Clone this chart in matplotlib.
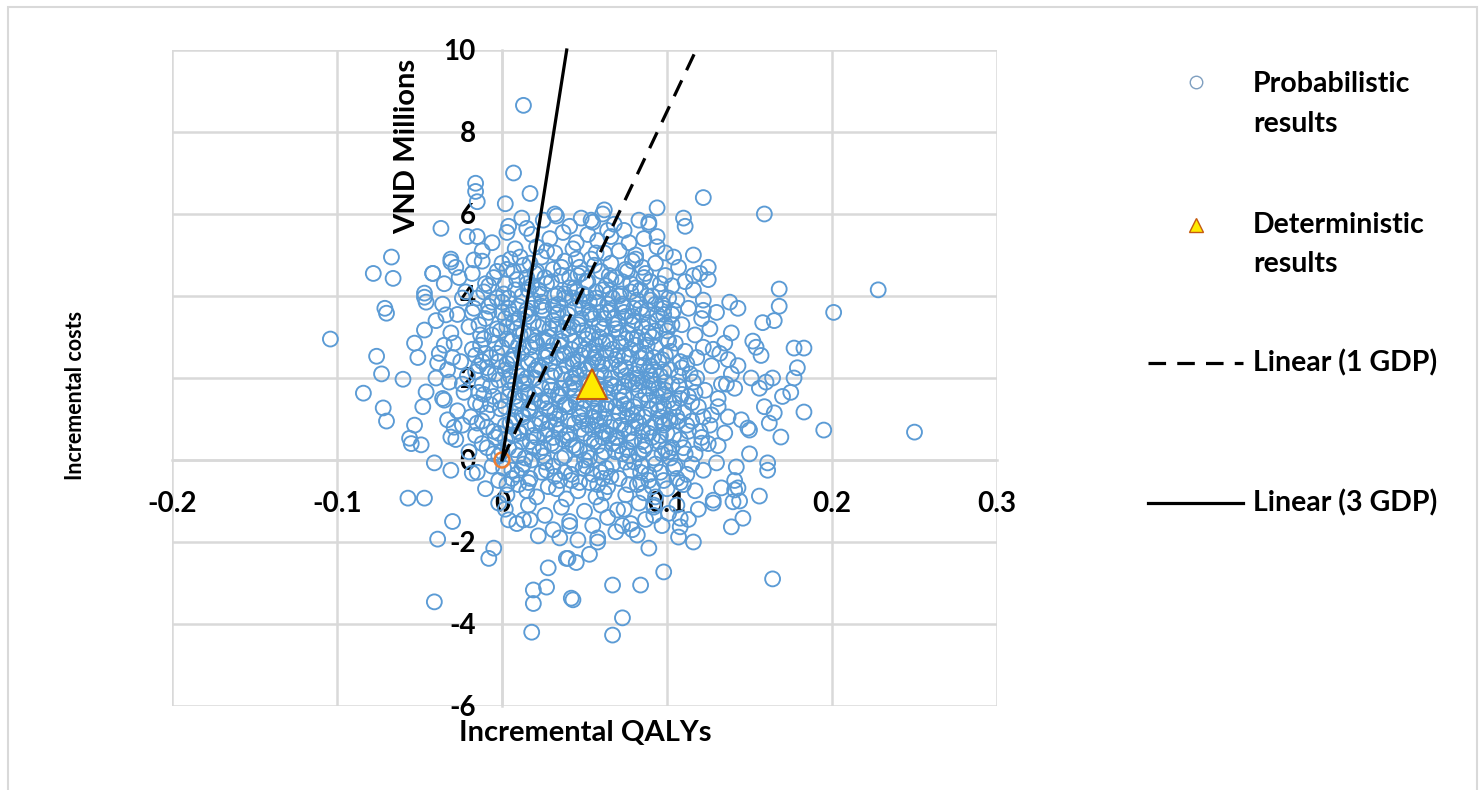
import numpy as np
import matplotlib
matplotlib.use("Agg")
from matplotlib import pyplot as plt
from matplotlib.lines import Line2D
from matplotlib.patches import Rectangle

# probabilistic results (incremental QALYs, incremental costs in VND millions)
upper_pts = [
    (0.013, 8.65), (0.007, 7.0), (-0.016, 6.75), (-0.016, 6.55), (-0.015, 6.3), (0.017, 6.5),
    (0.002, 6.25), (-0.037, 5.65), (0.122, 6.4), (0.159, 6.0), (0.094, 6.15), (0.110, 5.9),
    (0.111, 5.7), (0.094, 5.45), (0.089, 5.8), (0.116, 5.0), (0.104, 4.95), (0.125, 4.7),
    (0.125, 4.4), (0.116, 4.5), (0.032, 6.0), (0.062, 6.1), (0.054, 5.85), (0.004, 5.7),
    (-0.015, 5.45), (-0.031, 4.9), (-0.042, 4.55),
]
right_pts = [
    (0.228, 4.15), (0.201, 3.6), (0.168, 4.17), (0.168, 3.75), (0.165, 3.4), (0.158, 3.35),
    (0.138, 3.85), (0.143, 3.7), (0.122, 3.9), (0.122, 3.65), (0.183, 2.73), (0.177, 2.73),
    (0.179, 2.25), (0.177, 2.0), (0.175, 1.65), (0.170, 1.55), (0.183, 1.17), (0.195, 0.73),
    (0.250, 0.68), (0.169, 0.56), (0.165, 1.15), (0.159, 1.3), (0.162, 0.9), (0.150, 0.15),
    (0.161, -0.07), (0.161, -0.25), (0.150, 0.73), (0.160, 1.9), (0.164, 2.0), (0.156, 1.75),
    (0.151, 2.0), (0.154, 2.75), (0.157, 2.55), (0.152, 2.9), (0.139, 3.1), (0.135, 2.85),
    (0.128, 2.7), (0.137, 2.45), (0.143, 2.3), (0.139, 2.1), (0.133, 1.85), (0.141, 1.75),
    (0.122, 1.05), (0.131, 1.3), (0.137, 1.05), (0.145, 0.98), (0.149, 0.78), (0.135, 0.66),
    (0.121, 0.41), (0.125, 0.4), (0.130, -0.07), (0.142, -0.17), (0.141, -0.5), (0.133, -0.68),
    (0.143, -0.68), (0.156, -0.88), (0.144, -1.0), (0.128, -0.98),
]
lower_pts = [
    (0.146, -1.42), (0.139, -1.63), (0.128, -1.05), (0.140, -1.02), (0.116, -2.0), (0.108, -1.63),
    (0.107, -1.88), (0.108, -1.42), (0.164, -2.9), (0.098, -2.73), (0.089, -2.15), (0.084, -3.05),
    (0.067, -3.05), (0.073, -3.85), (0.067, -4.27), (0.043, -3.41), (0.058, -2.0), (0.053, -2.3),
    (0.040, -2.4), (0.045, -2.5), (0.082, -1.83), (0.079, -1.7), (0.073, -1.6), (0.070, -1.22),
    (0.092, -1.35), (0.092, -1.1), (0.141, -0.73), (-0.005, -2.15), (-0.008, -2.4), (-0.041, -3.46),
    (0.028, -2.63), (0.019, -3.17), (0.027, -3.1), (0.019, -3.5), (0.018, -4.2), (0.042, -3.37),
    (0.039, -2.4), (0.035, -1.9), (0.041, -1.6), (0.004, -1.46), (0.013, -1.46), (0.017, -1.46),
    (-0.002, -1.05), (-0.030, -1.5), (-0.039, -1.93),
]
left_pts = [
    (-0.057, -0.93), (-0.047, -0.93), (-0.018, -0.32), (-0.031, -0.25), (-0.041, -0.07),
    (-0.067, 4.95), (-0.078, 4.55), (-0.066, 4.43), (-0.042, 4.55), (-0.031, 4.83), (-0.017, 4.88),
    (-0.047, 4.07), (-0.046, 3.85), (-0.071, 3.7), (-0.070, 3.58), (-0.104, 2.95), (-0.076, 2.53),
    (-0.073, 2.1), (-0.060, 1.97), (-0.084, 1.63), (-0.072, 1.27), (-0.070, 0.95), (-0.053, 2.85),
    (-0.047, 3.17), (-0.051, 2.5), (-0.035, 2.8), (-0.040, 2.0), (-0.046, 1.66), (-0.048, 1.3),
    (-0.053, 0.85), (-0.056, 0.53), (-0.055, 0.4), (-0.049, 0.37), (-0.035, 1.46), (-0.033, 0.98),
    (-0.029, 0.8), (-0.031, 0.56), (-0.039, 2.37), (-0.034, 3.54), (-0.047, 3.97),
]
core_top = [
    (0.012, 5.9), (0.025, 5.85), (0.033, 5.95), (0.041, 5.7), (0.048, 5.9), (0.055, 5.8),
    (0.061, 6.0), (0.068, 5.75), (0.074, 5.6), (0.083, 5.85), (0.089, 5.75), (0.003, 5.55),
    (-0.006, 5.3), (0.018, 5.5), (0.029, 5.4), (0.037, 5.55), (0.045, 5.3), (0.052, 5.5),
    (0.058, 5.35), (0.066, 5.45), (0.077, 5.3), (0.086, 5.4), (0.094, 5.2), (-0.012, 5.1),
    (0.008, 5.15), (0.021, 5.2), (0.032, 5.05), (0.043, 5.15), (0.057, 5.05), (0.071, 5.1),
    (0.081, 5.0), (0.099, 5.05), (-0.021, 5.45), (0.015, 5.65), (0.064, 5.6),
]
core_4_5 = [
    (-0.035, 4.3), (-0.028, 4.7), (-0.022, 4.1), (-0.018, 4.55), (-0.012, 4.85), (-0.008, 4.25),
    (-0.003, 4.6), (0.001, 4.05), (0.005, 4.9), (0.009, 4.4), (0.013, 4.75), (0.016, 4.15),
    (0.020, 4.55), (0.024, 4.95), (0.027, 4.3), (0.031, 4.65), (0.034, 4.05), (0.038, 4.85),
    (0.041, 4.45), (0.044, 4.2), (0.047, 4.7), (0.051, 4.35), (0.054, 4.9), (0.057, 4.1),
    (0.060, 4.6), (0.063, 4.25), (0.066, 4.8), (0.069, 4.45), (0.072, 4.05), (0.075, 4.65),
    (0.078, 4.3), (0.081, 4.9), (0.084, 4.15), (0.087, 4.55), (0.090, 4.35), (0.093, 4.8),
    (0.096, 4.1), (0.099, 4.5), (0.103, 4.25), (0.107, 4.7), (0.111, 4.35), (0.116, 4.15),
    (0.120, 4.55), (-0.026, 4.45), (0.003, 4.65), (0.018, 4.25), (0.036, 4.5), (0.049, 4.05),
    (0.065, 4.5), (0.085, 4.7),
]
core_3_4 = [
    (-0.040, 3.4), (-0.036, 3.8), (-0.031, 3.1), (-0.027, 3.55), (-0.024, 3.95), (-0.020, 3.25),
    (-0.017, 3.7), (-0.013, 3.05), (-0.010, 3.45), (-0.006, 3.85), (-0.003, 3.2), (0.000, 3.6),
    (0.004, 3.95), (0.007, 3.35), (0.010, 3.75), (0.013, 3.1), (0.016, 3.5), (0.019, 3.9),
    (0.022, 3.25), (0.025, 3.65), (0.028, 3.0), (0.031, 3.4), (0.034, 3.8), (0.037, 3.15),
    (0.040, 3.55), (0.043, 3.95), (0.046, 3.3), (0.049, 3.7), (0.052, 3.05), (0.055, 3.45),
    (0.058, 3.85), (0.061, 3.2), (0.064, 3.6), (0.067, 3.95), (0.070, 3.35), (0.073, 3.75),
    (0.076, 3.1), (0.079, 3.5), (0.082, 3.9), (0.085, 3.25), (0.088, 3.65), (0.091, 3.0),
    (0.094, 3.4), (0.097, 3.8), (0.100, 3.15), (0.103, 3.55), (0.106, 3.9), (0.109, 3.3),
    (0.113, 3.7), (0.117, 3.05), (0.121, 3.45), (0.126, 3.2), (0.130, 3.6), (-0.015, 3.95),
    (0.002, 3.45), (0.011, 3.05), (0.024, 3.85), (0.033, 3.3), (0.041, 3.05), (0.053, 3.6),
    (0.062, 3.45), (0.071, 3.1), (0.080, 3.7), (0.089, 3.35), (0.098, 3.55), (0.047, 3.9),
    (0.059, 3.0), (0.015, 3.65), (-0.008, 3.6), (0.075, 3.5),
]
core_2_3 = [
    (-0.038, 2.6), (-0.033, 2.2), (-0.029, 2.85), (-0.025, 2.4), (-0.021, 2.05), (-0.018, 2.7),
    (-0.014, 2.3), (-0.011, 2.95), (-0.007, 2.5), (-0.004, 2.1), (0.000, 2.75), (0.003, 2.35),
    (0.006, 2.9), (0.009, 2.15), (0.012, 2.6), (0.015, 2.0), (0.018, 2.45), (0.021, 2.85),
    (0.024, 2.25), (0.027, 2.65), (0.030, 2.05), (0.033, 2.5), (0.036, 2.9), (0.039, 2.3),
    (0.042, 2.7), (0.045, 2.1), (0.048, 2.55), (0.051, 2.95), (0.054, 2.35), (0.057, 2.8),
    (0.060, 2.15), (0.063, 2.6), (0.066, 2.0), (0.069, 2.45), (0.072, 2.85), (0.075, 2.25),
    (0.078, 2.7), (0.081, 2.1), (0.084, 2.5), (0.087, 2.9), (0.090, 2.3), (0.093, 2.75),
    (0.096, 2.05), (0.099, 2.55), (0.102, 2.2), (0.105, 2.85), (0.108, 2.4), (0.111, 2.65),
    (0.114, 2.1), (0.118, 2.5), (0.122, 2.75), (0.127, 2.3), (0.132, 2.6), (-0.030, 2.5),
    (-0.016, 2.55), (-0.002, 2.4), (0.010, 2.8), (0.020, 2.2), (0.029, 2.35), (0.038, 2.6),
    (0.047, 2.2), (0.056, 2.5), (0.065, 2.85), (0.074, 2.55), (0.083, 2.3), (0.092, 2.5),
    (0.101, 2.9), (0.044, 2.9), (0.061, 2.35), (0.079, 2.95), (0.007, 2.55), (-0.009, 2.25),
    (0.025, 2.95), (0.053, 2.65), (0.088, 2.15),
]
core_1_2 = [
    (-0.036, 1.5), (-0.032, 1.9), (-0.027, 1.2), (-0.023, 1.65), (-0.019, 1.05), (-0.016, 1.4),
    (-0.012, 1.85), (-0.009, 1.15), (-0.005, 1.55), (-0.002, 1.95), (0.002, 1.3), (0.005, 1.7),
    (0.008, 1.05), (0.011, 1.45), (0.014, 1.85), (0.017, 1.2), (0.020, 1.6), (0.023, 1.0),
    (0.026, 1.4), (0.029, 1.8), (0.032, 1.15), (0.035, 1.55), (0.038, 1.95), (0.041, 1.3),
    (0.044, 1.7), (0.047, 1.05), (0.050, 1.45), (0.053, 1.85), (0.056, 1.2), (0.059, 1.6),
    (0.062, 1.0), (0.065, 1.4), (0.068, 1.8), (0.071, 1.15), (0.074, 1.55), (0.077, 1.95),
    (0.080, 1.3), (0.083, 1.7), (0.086, 1.05), (0.089, 1.45), (0.092, 1.85), (0.095, 1.2),
    (0.098, 1.6), (0.101, 1.0), (0.104, 1.4), (0.107, 1.8), (0.110, 1.15), (0.113, 1.55),
    (0.116, 1.9), (0.119, 1.3), (0.123, 1.7), (0.127, 1.1), (0.131, 1.5), (0.136, 1.85),
    (-0.024, 1.85), (-0.007, 1.35), (0.004, 1.95), (0.016, 1.6), (0.027, 1.25), (0.036, 1.75),
    (0.045, 1.4), (0.054, 1.6), (0.063, 1.75), (0.072, 1.45), (0.081, 1.85), (0.090, 1.25),
    (0.099, 1.9), (0.108, 1.5), (0.117, 1.65), (0.043, 1.9), (0.058, 1.35), (0.076, 1.25),
    (0.094, 1.55), (0.012, 1.1), (-0.014, 1.65),
]
core_0_1 = [
    (-0.028, 0.5), (-0.024, 0.85), (-0.020, 0.2), (-0.016, 0.6), (-0.012, 0.95), (-0.009, 0.3),
    (-0.005, 0.7), (-0.002, 0.1), (0.002, 0.5), (0.005, 0.9), (0.008, 0.25), (0.011, 0.65),
    (0.014, 0.05), (0.017, 0.45), (0.020, 0.85), (0.023, 0.2), (0.026, 0.6), (0.029, 0.95),
    (0.032, 0.35), (0.035, 0.75), (0.038, 0.1), (0.041, 0.5), (0.044, 0.9), (0.047, 0.25),
    (0.050, 0.65), (0.053, 0.05), (0.056, 0.45), (0.059, 0.85), (0.062, 0.2), (0.065, 0.6),
    (0.068, 0.95), (0.071, 0.35), (0.074, 0.75), (0.077, 0.1), (0.080, 0.5), (0.083, 0.9),
    (0.086, 0.25), (0.089, 0.65), (0.092, 0.05), (0.095, 0.45), (0.098, 0.85), (0.101, 0.2),
    (0.104, 0.6), (0.107, 0.95), (0.110, 0.3), (0.113, 0.7), (0.117, 0.15), (0.121, 0.55),
    (0.126, 0.85), (0.131, 0.35), (0.007, 0.6), (0.019, 0.3), (0.031, 0.55), (0.043, 0.35),
    (0.055, 0.75), (0.067, 0.4), (0.079, 0.8), (0.091, 0.55), (0.103, 0.3), (0.115, 0.95),
    (0.049, 0.95), (0.061, 0.55), (0.073, 0.15), (0.085, 0.7), (0.097, 0.15),
]
core_neg = [
    (-0.015, -0.3), (-0.010, -0.7), (-0.006, -0.15), (-0.002, -0.5), (0.003, -0.85), (0.006, -0.25),
    (0.010, -0.6), (0.013, -0.1), (0.017, -0.45), (0.021, -0.9), (0.024, -0.3), (0.028, -0.65),
    (0.031, -0.15), (0.035, -0.5), (0.039, -0.95), (0.042, -0.35), (0.046, -0.75), (0.049, -0.2),
    (0.053, -0.55), (0.057, -0.9), (0.060, -0.3), (0.064, -0.65), (0.067, -0.1), (0.071, -0.45),
    (0.075, -0.85), (0.078, -0.25), (0.082, -0.6), (0.085, -0.15), (0.089, -0.5), (0.093, -0.9),
    (0.096, -0.3), (0.100, -0.7), (0.104, -0.2), (0.108, -0.55), (0.112, -0.35), (0.117, -0.75),
    (0.122, -0.25), (0.026, -0.05), (0.044, -0.1), (0.062, -0.8), (0.080, -0.05), (0.098, -0.5),
    (0.015, -0.75), (0.055, -0.35), (0.086, -0.8),
    (0.002, -1.2), (0.009, -1.55), (0.016, -1.1), (0.022, -1.85), (0.026, -1.35), (0.031, -1.7),
    (0.036, -1.15), (0.041, -1.5), (0.046, -1.95), (0.050, -1.25), (0.055, -1.6), (0.060, -1.1),
    (0.064, -1.4), (0.069, -1.75), (0.074, -1.2), (0.078, -1.55), (0.083, -1.05), (0.087, -1.45),
    (0.092, -1.15), (0.097, -1.6), (0.101, -1.3), (0.106, -1.1), (0.113, -1.45), (0.119, -1.2),
    (0.058, -1.9),
]
dense_hi = [
    (-0.014, 3.3), (-0.011, 4.1), (-0.008, 3.75), (-0.005, 4.45), (-0.001, 3.15), (0.002, 4.3),
    (0.004, 3.7), (0.007, 4.6), (0.009, 3.2), (0.012, 4.0), (0.014, 3.55), (0.017, 4.8),
    (0.019, 3.35), (0.022, 4.15), (0.024, 3.75), (0.026, 4.45), (0.029, 3.2), (0.032, 4.0),
    (0.034, 3.6), (0.036, 4.7), (0.039, 3.35), (0.041, 4.2), (0.044, 3.7), (0.046, 4.5),
    (0.049, 3.15), (0.051, 4.0), (0.054, 3.55), (0.056, 4.75), (0.059, 3.3), (0.061, 4.15),
    (0.064, 3.8), (0.066, 4.4), (0.069, 3.2), (0.071, 4.0), (0.074, 3.6), (0.076, 4.6),
    (0.079, 3.3), (0.081, 4.2), (0.084, 3.7), (0.086, 4.45), (0.089, 3.1), (0.091, 4.0),
    (0.094, 3.55), (0.096, 4.3), (0.099, 3.3), (0.101, 3.95), (0.104, 3.65), (0.000, 4.8),
    (0.011, 4.95), (0.027, 5.1), (0.045, 4.9), (0.062, 5.05), (0.079, 4.85), (0.006, 3.55),
    (0.018, 3.05), (0.031, 3.75), (0.043, 3.25), (0.057, 3.95), (0.068, 3.45), (0.082, 3.0),
    (0.093, 3.8), (0.021, 4.6), (0.038, 4.05), (0.052, 4.35), (0.073, 4.35), (0.088, 4.0),
    (-0.003, 3.95), (0.015, 4.3), (0.048, 4.55), (0.066, 3.65),
]
dense_mid = [
    (-0.016, 2.15), (-0.013, 1.35), (-0.010, 2.6), (-0.007, 1.8), (-0.004, 2.85), (-0.001, 1.25),
    (0.002, 2.2), (0.004, 1.55), (0.007, 2.45), (0.009, 1.3), (0.012, 2.05), (0.014, 1.65),
    (0.017, 2.75), (0.019, 1.4), (0.022, 2.3), (0.024, 1.75), (0.027, 2.9), (0.029, 1.2),
    (0.032, 2.15), (0.034, 1.6), (0.037, 2.55), (0.039, 1.35), (0.042, 2.0), (0.044, 1.55),
    (0.047, 2.8), (0.049, 1.25), (0.052, 2.25), (0.054, 1.7), (0.057, 2.6), (0.059, 1.15),
    (0.062, 2.05), (0.064, 1.6), (0.067, 2.7), (0.069, 1.3), (0.072, 2.2), (0.074, 1.8),
    (0.077, 2.5), (0.079, 1.1), (0.082, 2.0), (0.084, 1.45), (0.087, 2.6), (0.089, 1.75),
    (0.092, 2.2), (0.094, 1.35), (0.097, 2.45), (0.099, 1.7), (0.102, 2.65), (0.104, 1.25),
    (0.107, 2.05), (0.109, 1.6), (0.112, 2.35), (0.003, 2.95), (0.013, 1.05), (0.026, 2.5),
    (0.035, 1.1), (0.046, 2.4), (0.055, 1.05), (0.066, 2.35), (0.076, 1.05), (0.086, 2.3),
    (0.096, 1.05), (0.008, 1.85), (0.020, 2.0), (0.031, 2.8), (0.041, 1.75), (0.051, 2.0),
    (0.061, 2.85), (0.071, 1.65), (0.081, 2.8), (0.091, 1.95), (0.101, 1.45), (-0.012, 2.4),
    (0.016, 2.35), (0.043, 2.35), (0.058, 1.85), (0.075, 2.05), (0.098, 2.15), (0.028, 1.55),
    (0.063, 1.35), (0.085, 1.9),
]
dense_lo = [
    (-0.012, 0.4), (-0.009, 0.8), (-0.005, 0.15), (-0.002, 0.65), (0.001, -0.2), (0.004, 0.3),
    (0.007, 0.95), (0.009, -0.35), (0.012, 0.45), (0.015, 0.8), (0.018, 0.0), (0.021, 0.55),
    (0.024, 0.9), (0.027, -0.25), (0.030, 0.4), (0.033, 0.85), (0.036, 0.05), (0.039, 0.6),
    (0.042, -0.5), (0.045, 0.3), (0.048, 0.75), (0.051, -0.15), (0.054, 0.5), (0.057, 0.95),
    (0.060, 0.1), (0.063, 0.65), (0.066, -0.4), (0.069, 0.2), (0.072, 0.85), (0.075, -0.05),
    (0.078, 0.45), (0.081, 0.95), (0.084, -0.3), (0.087, 0.35), (0.090, 0.8), (0.093, -0.1),
    (0.096, 0.6), (0.099, 0.25), (0.102, 0.95), (0.105, -0.15), (0.108, 0.5), (0.111, 0.15),
    (0.003, -0.6), (0.016, -0.55), (0.033, -0.7), (0.047, -0.55), (0.061, -0.45), (0.077, -0.6),
    (0.091, -0.65), (0.106, -0.45), (0.010, 0.1), (0.025, 0.3), (0.040, 0.95), (0.058, 0.35),
    (0.070, 0.55), (0.083, 0.15), (0.097, 0.9), (0.052, 0.2), (0.066, 0.8), (0.037, 0.5),
]
dense_centre = [
    (-0.018, 3.6), (-0.013, 2.8), (-0.010, 4.3), (-0.006, 3.05), (-0.003, 2.6), (0.000, 3.85),
    (0.003, 3.25), (0.005, 2.45), (0.008, 4.15), (0.010, 3.45), (0.013, 2.75), (0.015, 4.45),
    (0.018, 3.7), (0.020, 2.9), (0.023, 4.05), (0.025, 3.3), (0.028, 2.55), (0.030, 4.35),
    (0.033, 3.55), (0.035, 2.8), (0.038, 3.95), (0.040, 3.2), (0.043, 2.45), (0.045, 4.1),
    (0.048, 3.45), (0.050, 2.7), (0.053, 3.85), (0.055, 3.1), (0.058, 2.4), (0.060, 3.6),
    (0.063, 2.9), (0.065, 4.05), (0.068, 3.3), (0.070, 2.55), (0.073, 3.8), (0.075, 2.95),
    (0.078, 4.1), (0.080, 3.4), (0.083, 2.65), (0.085, 3.55), (0.088, 2.8), (0.090, 3.9),
    (0.093, 3.15), (0.095, 2.4), (0.098, 3.7), (0.100, 2.95), (0.103, 3.3),
    (-0.015, 0.9), (-0.011, 1.6), (-0.008, 2.1), (-0.004, 0.55), (-0.001, 1.45), (0.002, 0.85),
    (0.005, 2.05), (0.008, 1.55), (0.010, 0.7), (0.013, 1.9), (0.016, 1.25), (0.019, 0.6),
    (0.021, 2.2), (0.024, 1.45), (0.027, 0.75), (0.030, 1.7), (0.033, 1.0), (0.036, 2.1),
    (0.038, 1.35), (0.041, 0.65), (0.044, 1.85), (0.047, 1.15), (0.050, 2.2), (0.052, 0.85),
    (0.055, 1.5), (0.058, 2.0), (0.061, 0.7), (0.063, 1.25), (0.066, 1.85), (0.069, 0.55),
    (0.071, 2.3), (0.074, 1.35), (0.077, 0.65), (0.079, 1.9), (0.082, 1.15), (0.085, 0.45),
    (0.087, 1.6), (0.090, 2.05), (0.093, 0.9), (0.095, 1.75), (0.098, 1.3), (0.100, 0.65),
    (0.103, 1.85), (0.106, 1.05), (0.109, 2.25), (0.112, 0.85), (0.115, 1.4), (0.118, 2.0),
    (0.120, 0.7),
    (0.000, 0.2), (0.012, -0.2), (0.025, 0.1), (0.038, -0.3), (0.050, 0.0), (0.063, -0.2),
    (0.076, 0.25), (0.089, -0.35), (0.102, 0.05), (0.115, -0.1), (0.006, -0.45), (0.032, -0.4),
    (0.058, -0.6), (0.084, -0.55), (0.110, -0.6),
]

# deterministic result and comparator
det_qaly, det_cost = 0.0545, 1.85
origin_qaly, origin_cost = 0.0, 0.0

# willingness-to-pay thresholds, VND millions per QALY
wtp_1gdp = 85
wtp_3gdp = 255

x_ticks = [-0.2, -0.1, 0, 0.1, 0.2, 0.3]
x_labels = ["-0.2", "-0.1", "0", "0.1", "0.2", "0.3"]
y_ticks = [-6, -4, -2, 0, 2, 4, 6, 8, 10]
y_labels = ["-6", "-4", "-2", "0", "2", "4", "6", "8", "10"]

W, H = 1482, 790
blue = "#5b9bd5"
grid = "#d9d9d9"

plt.rcParams["font.family"] = ["Lato", "DejaVu Sans"]
plt.rcParams["font.weight"] = "bold"

pts = np.array(upper_pts + right_pts + lower_pts + left_pts + core_top + core_4_5
               + core_3_4 + core_2_3 + core_1_2 + core_0_1 + core_neg
               + dense_hi + dense_mid + dense_lo + dense_centre)
qaly = pts[:, 0]
cost = pts[:, 1]


def fpos(px, py):
    return px / W, 1 - py / H


fig = plt.figure(figsize=(W / 100, H / 100), dpi=100)
fig.patch.set_facecolor("white")
ax = fig.add_axes([172 / W, (H - 706) / H, 825 / W, 656 / H])

ax.set_xlim(-0.2, 0.3)
ax.set_ylim(-6, 10)
ax.tick_params(axis="x", length=0, pad=22, labelsize=20)
ax.tick_params(axis="y", length=0, pad=19, labelsize=20)
ax.set_xticks(x_ticks)
ax.set_xticklabels(x_labels, fontweight="bold")
ax.set_yticks(y_ticks)
ax.set_yticklabels(y_labels, fontweight="bold")

ax.grid(True, color=grid, linewidth=1.8)
ax.set_axisbelow(True)
for gl in ax.get_xgridlines() + ax.get_ygridlines():
    gl.set_clip_on(False)
ax.spines["left"].set_position(("data", 0))
ax.spines["bottom"].set_position(("data", 0))
for side in ["left", "bottom"]:
    ax.spines[side].set_color(grid)
    ax.spines[side].set_linewidth(1.8)
    ax.spines[side].set_zorder(0.8)
ax.spines["top"].set_visible(False)
ax.spines["right"].set_visible(False)

ax.scatter(qaly, cost, s=115, facecolors="none", edgecolors=blue, linewidths=1.35, zorder=2)
ax.scatter([origin_qaly], [origin_cost], s=115, facecolors="none", edgecolors="#ed7d31",
           linewidths=1.8, zorder=3)

y_line = np.array([0, 10])
ax.plot(y_line / wtp_1gdp, y_line, color="black", linewidth=2.3, linestyle=(0, (5.5, 3.5)),
        zorder=4, clip_on=False)
ax.plot(y_line / wtp_3gdp, y_line, color="black", linewidth=2.3, zorder=4, clip_on=False)

ax.plot([det_qaly], [det_cost], marker="^", markersize=21, markerfacecolor="#ffea00",
        markeredgecolor="#c55a11", markeredgewidth=1.5, linestyle="none", zorder=5)

# axis titles
fig.text(*fpos(407, 146), "VND Millions", rotation=90, ha="center", va="center", fontsize=21)
fig.text(*fpos(585, 733), "Incremental QALYs", ha="center", va="center", fontsize=21)
fig.text(*fpos(75, 395), "Incremental costs", rotation=90, ha="center", va="center", fontsize=15.5)

# legend
tx = 1253
lfs = 20.5
fig.add_artist(Line2D([fpos(1196, 82)[0]], [fpos(1196, 82)[1]], marker="o", markersize=9,
                      markerfacecolor="none", markeredgecolor="#7f9fc0", markeredgewidth=1.0,
                      transform=fig.transFigure))
fig.text(*fpos(tx, 84), "Probabilistic", ha="left", va="center", fontsize=lfs)
fig.text(*fpos(tx, 124), "results", ha="left", va="center", fontsize=lfs)
fig.add_artist(Line2D([fpos(1196, 225)[0]], [fpos(1196, 225)[1]], marker="^", markersize=10,
                      markerfacecolor="#ffea00", markeredgecolor="#c55a11", markeredgewidth=1.0,
                      transform=fig.transFigure))
fig.text(*fpos(tx, 225), "Deterministic", ha="left", va="center", fontsize=lfs)
fig.text(*fpos(tx, 264), "results", ha="left", va="center", fontsize=lfs)
x0, x1 = fpos(1148, 363)[0], fpos(1243, 363)[0]
fig.add_artist(Line2D([x0, x1], [fpos(0, 363)[1]] * 2, color="black", linewidth=2.3,
                      linestyle=(0, (5.5, 3.5)), transform=fig.transFigure))
fig.text(*fpos(tx, 363), "Linear (1 GDP)", ha="left", va="center", fontsize=lfs)
fig.add_artist(Line2D([x0, x1], [fpos(0, 503)[1]] * 2, color="black", linewidth=2.3,
                      transform=fig.transFigure))
fig.text(*fpos(tx, 503), "Linear (3 GDP)", ha="left", va="center", fontsize=lfs)

# outer chart border
fig.add_artist(Rectangle((8 / W, -0.01), 1469 / W, 1.01 - 7 / H, fill=False,
                         edgecolor=grid, linewidth=1.5, transform=fig.transFigure))

fig.savefig("out.png", dpi=100)
